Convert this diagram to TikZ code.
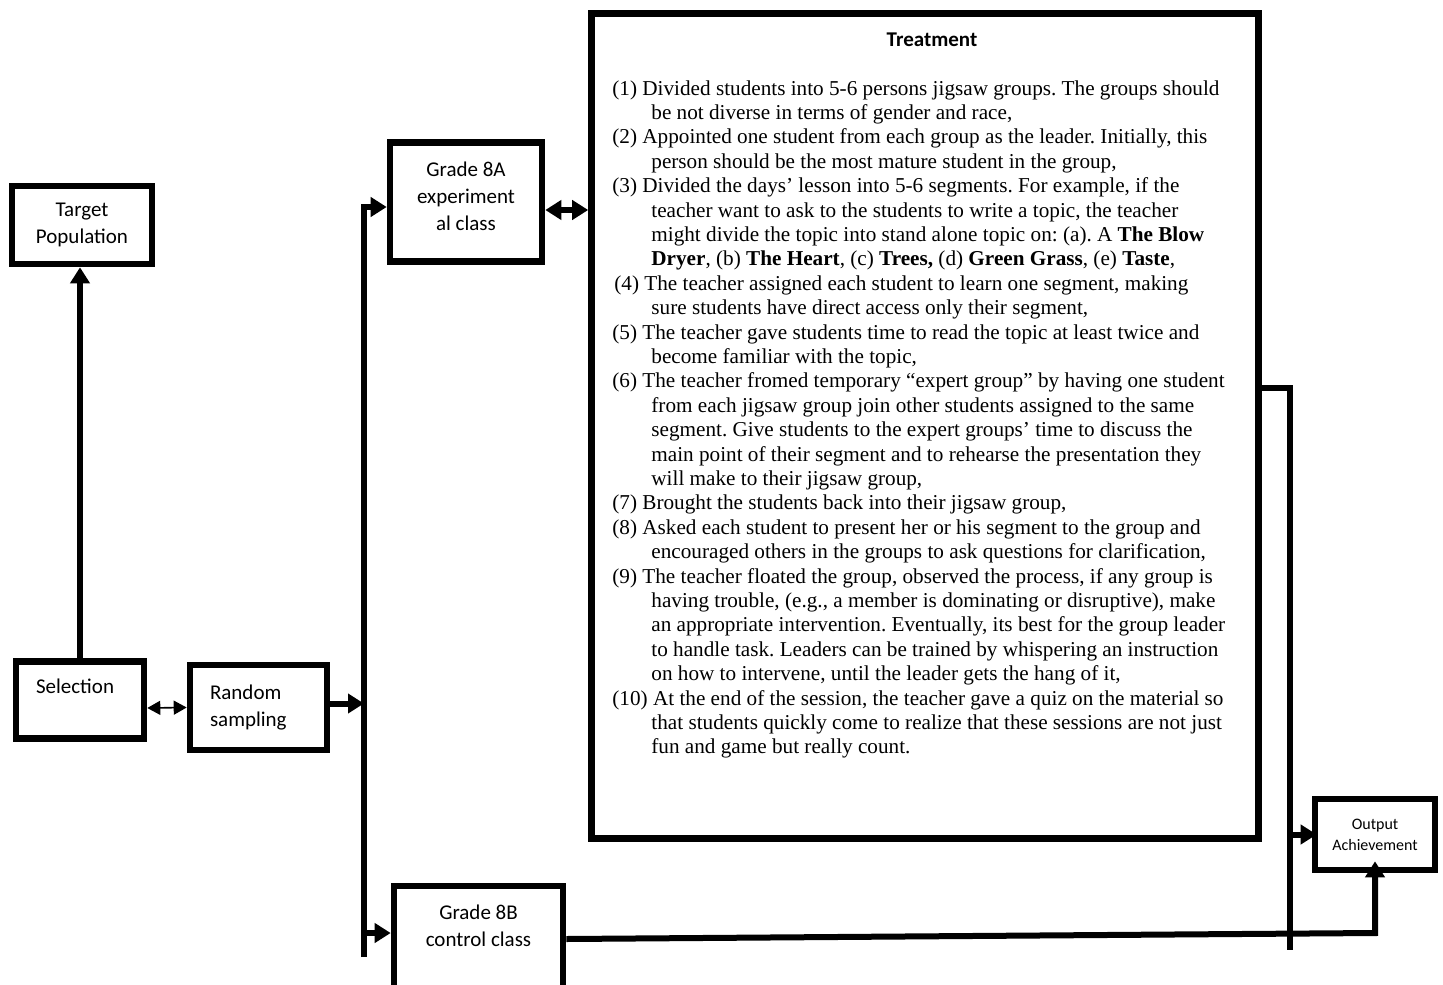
\documentclass[tikz,border=0pt]{standalone}
\usepackage{fontspec}
\setmainfont{Liberation Serif}
\newfontfamily\labelfont{Carlito}
\usetikzlibrary{arrows.meta}

\newcommand{\contline}{\hspace*{19.5pt}}

\tikzset{
  box/.style={draw, rectangle, line width=3.3pt, inner sep=0pt, align=center,
    font=\labelfont\fontsize{10.5}{13.5}\selectfont},
  flow/.style={line width=3pt},
  thinflow/.style={line width=0.8pt},
}

\begin{document}
\frenchspacing
\begin{tikzpicture}[x=0.5pt,y=-0.5pt,>={Triangle[length=8pt,width=9.5pt]}]
  \useasboundingbox (0,0) rectangle (1443,984);
  % boxes
  \node[box, minimum width=70pt, minimum height=39pt] (target) at (82,225) {Target\\Population};
  \node[box, minimum width=64pt, minimum height=38.5pt, text width=44pt, align=left, text depth=14pt] (select) at (80,700) {Selection};
  \node[box, minimum width=68.5pt, minimum height=42.5pt, text width=48.5pt, align=left] (random) at (258.5,707.5) {Random\\sampling};
  \node[box, minimum width=76pt, minimum height=59.5pt, text depth=6pt] (grade8a) at (466,202) {Grade 8A\\experiment\\al class};
  \node[box, minimum width=84.5pt, minimum height=59.5pt, text depth=20pt] (grade8b) at (478.5,945.5) {Grade 8B\\control class};
  \node[box, minimum width=60pt, minimum height=35.5pt, font=\labelfont\fontsize{8}{10.5}\selectfont] (output) at (1375,834.5) {Output\\Achievement};
  \node[box, minimum width=333.5pt, minimum height=412.5pt] (treat) at (925,426) {};

  % treatment text
  \node[font=\labelfont\bfseries\fontsize{10.5}{13}\selectfont] (title) at (932,40) {Treatment};
  \node[anchor=north west, inner sep=0pt, align=left, font=\fontsize{10.6}{12.2}\selectfont] (steps) at (612,80) {%
    (1) Divided students into 5-6 persons jigsaw groups. The groups should\\
    \contline be not diverse in terms of gender and race,\\
    (2) Appointed one student from each group as the leader. Initially, this\\
    \contline person should be the most mature student in the group,\\
    (3) Divided the days’ lesson into 5-6 segments. For example, if the\\
    \contline teacher want to ask to the students to write a topic, the teacher\\
    \contline might divide the topic into stand alone topic on: (a). A \textbf{The Blow}\\
    \contline \textbf{Dryer}, (b) \textbf{The Heart}, (c) \textbf{Trees,} (d) \textbf{Green Grass}, (e) \textbf{Taste},\\
    \hspace*{1pt}(4) The teacher assigned each student to learn one segment, making\\
    \contline sure students have direct access only their segment,\\
    (5) The teacher gave students time to read the topic at least twice and\\
    \contline become familiar with the topic,\\
    (6) The teacher fromed temporary “expert group” by having one student\\
    \contline from each jigsaw group join other students assigned to the same\\
    \contline segment. Give students to the expert groups’ time to discuss the\\
    \contline main point of their segment and to rehearse the presentation they\\
    \contline will make to their jigsaw group,\\
    (7) Brought the students back into their jigsaw group,\\
    (8) Asked each student to present her or his segment to the group and\\
    \contline encouraged others in the groups to ask questions for clarification,\\
    (9) The teacher floated the group, observed the process, if any group is\\
    \contline having trouble, (e.g., a member is dominating or disruptive), make\\
    \contline an appropriate intervention. Eventually, its best for the group leader\\
    \contline to handle task. Leaders can be trained by whispering an instruction\\
    \contline on how to intervene, until the leader gets the hang of it,\\
    (10) At the end of the session, the teacher gave a quiz on the material so\\
    \contline that students quickly come to realize that these sessions are not just\\
    \contline fun and game but really count.};

  % connectors
  \coordinate (spineT) at (364,207);
  \coordinate (spineB) at (364,957);
  \coordinate (toB) at (364,933);
  \coordinate (drop) at (1290,950);
  \draw[flow,->] (select.north) -- (select.north |- target.south);
  \draw[thinflow,{Triangle[length=6.5pt,width=7pt]}-{Triangle[length=6.5pt,width=7pt]}] ([yshift=-4pt]select.east) -- (random.west);
  \draw[flow,->] ([yshift=2pt]random.east) -- ([yshift=2pt]random.east -| spineT);
  \draw[flow,->] (spineB) -- (spineT) -- (spineT -| grade8a.west);
  \draw[flow,->] (toB) -- (toB -| grade8b.west);
  \draw[flow,<->] ([yshift=-4pt]grade8a.east) -- ([yshift=-4pt]grade8a.east -| treat.west);
  \draw[flow] (treat.east |- 0,388) -| (drop);
  \draw[flow,->] (drop |- output.west) -- ([xshift=2.5pt]output.west);
  \draw[flow,->] ([yshift=3.25pt]grade8b.east) -- (output.south |- 0,933) -- ([yshift=6pt]output.south);
\end{tikzpicture}
\end{document}
